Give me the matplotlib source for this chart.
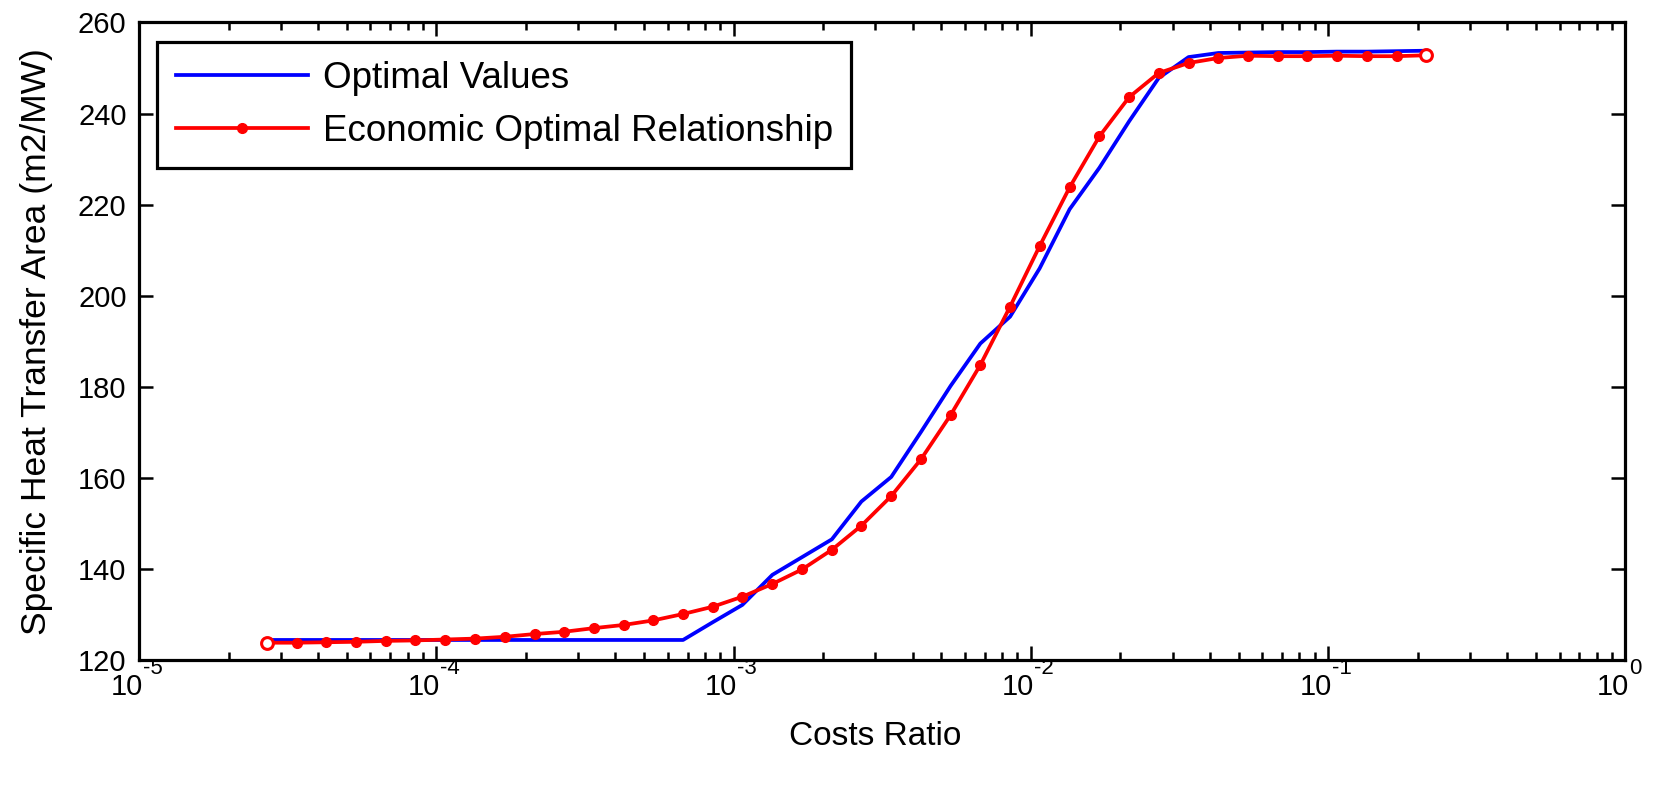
import matplotlib
matplotlib.use("Agg")
import matplotlib.pyplot as plt
from matplotlib.ticker import LogLocator, NullFormatter
from matplotlib.transforms import blended_transform_factory, offset_copy

plt.rcParams['font.family'] = ['Liberation Sans', 'DejaVu Sans']

# costs ratio (same grid for both curves)
cost_ratio = [2.69e-5, 3.39e-5, 4.27e-5, 5.37e-5, 6.76e-5, 8.51e-5, 1.07e-4, 1.35e-4,
              1.70e-4, 2.14e-4, 2.69e-4, 3.39e-4, 4.27e-4, 5.37e-4, 6.76e-4, 8.51e-4,
              1.07e-3, 1.35e-3, 1.70e-3, 2.14e-3, 2.69e-3, 3.39e-3, 4.27e-3, 5.37e-3,
              6.76e-3, 8.51e-3, 1.07e-2, 1.35e-2, 1.70e-2, 2.14e-2, 2.69e-2, 3.39e-2,
              4.27e-2, 5.37e-2, 6.76e-2, 8.51e-2, 0.107, 0.135, 0.170, 0.214]

optimal_values = [124.4, 124.4, 124.4, 124.4, 124.4, 124.4, 124.4, 124.4,
                  124.4, 124.4, 124.4, 124.4, 124.4, 124.4, 124.4, 128.3,
                  132.1, 138.7, 142.6, 146.5, 154.8, 160.2, 170.1, 180.2,
                  189.5, 195.4, 206.0, 219.0, 228.1, 238.3, 247.8, 252.4,
                  253.3, 253.4, 253.5, 253.5, 253.6, 253.6, 253.7, 253.8]

economic_rel = [123.8, 123.8, 123.9, 124.0, 124.2, 124.3, 124.5, 124.7,
                125.1, 125.7, 126.2, 127.0, 127.7, 128.7, 130.1, 131.7,
                133.9, 136.7, 139.9, 144.2, 149.5, 156.0, 164.1, 173.8,
                184.8, 197.6, 210.9, 223.8, 235.0, 243.6, 248.9, 251.1,
                252.2, 252.7, 252.6, 252.6, 252.7, 252.6, 252.6, 252.8]

x_major = [1e-5, 1e-4, 1e-3, 1e-2, 1e-1, 1e0]
x_exp = ['-5', '-4', '-3', '-2', '-1', '0']
y_ticks = [120, 140, 160, 180, 200, 220, 240, 260]

fig = plt.figure(figsize=(16.67, 7.86), dpi=100)
ax = fig.add_axes([0.0834, 0.1603, 0.8917, 0.8111])

ax.plot(cost_ratio, optimal_values, color='blue', lw=2.7, label='Optimal Values')
ax.plot(cost_ratio, economic_rel, color='red', lw=2.7, marker='o', ms=7,
        mec='red', mfc='red', label='Economic Optimal Relationship')
# open circles at the two ends
ax.plot([cost_ratio[0], cost_ratio[-1]], [economic_rel[0], economic_rel[-1]],
        ls='none', marker='o', ms=8.5, mec='red', mfc='white', mew=2.2)

ax.set_xscale('log')
ax.set_xlim(1e-5, 1)
ax.set_ylim(120, 260)
ax.set_xticks(x_major)
ax.xaxis.set_minor_locator(LogLocator(base=10, subs=range(2, 10)))
ax.xaxis.set_minor_formatter(NullFormatter())
ax.set_xticklabels([''] * len(x_major))
ax.set_yticks(y_ticks)
ax.set_yticklabels([str(v) for v in y_ticks], fontsize=21)

ax.tick_params(which='both', direction='in', top=True, right=True, width=1.8)
ax.tick_params(which='major', length=10, pad=9)
ax.tick_params(which='minor', length=5.5)
for s in ax.spines.values():
    s.set_linewidth(2.3)

# MATLAB style 10^n tick labels
trans = blended_transform_factory(ax.transData, ax.transAxes)
for v, e in zip(x_major, x_exp):
    ax.text(v, 0, '10', fontsize=21, ha='right', va='baseline',
            transform=offset_copy(trans, fig, x=2.5, y=-25.5, units='points'))
    ax.text(v, 0, e, fontsize=16, ha='left', va='baseline',
            transform=offset_copy(trans, fig, x=2.5, y=-10, units='points'))

ax.set_xlabel('Costs Ratio', fontsize=24)
ax.xaxis.set_label_coords(0.495, -0.096)
ax.set_ylabel('Specific Heat Transfer Area (m2/MW)', fontsize=25.5)
ax.yaxis.set_label_coords(-0.058, 0.5)

leg = ax.legend(loc='upper left', bbox_to_anchor=(0.0123, 0.9686), fontsize=26.5,
                fancybox=False, framealpha=1, edgecolor='black', handlelength=3.6,
                handletextpad=0.4, borderpad=0.5, labelspacing=0.5, borderaxespad=0)
leg.get_frame().set_linewidth(2.3)

fig.savefig('out.png', dpi=100)
